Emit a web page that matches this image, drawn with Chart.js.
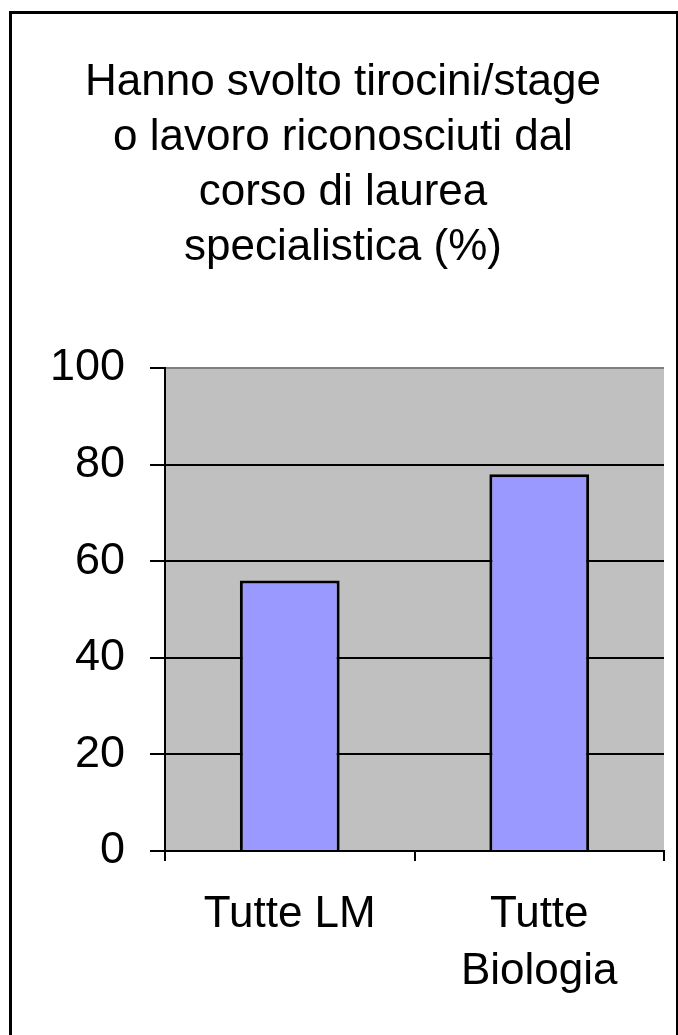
<!DOCTYPE html>
<html>
<head>
<meta charset="utf-8">
<script src="https://cdn.jsdelivr.net/npm/chart.js@4.4.1/dist/chart.umd.min.js"></script>
<style>
  html, body { margin: 0; padding: 0; background: #fff; }
  #wrap { position: relative; width: 678px; height: 1035px; overflow: hidden; }
  #frame { position: absolute; left: 9px; top: 11px; width: 664px; height: 1040px; border: 3px solid #000; pointer-events: none; }
</style>
</head>
<body>
<div id="wrap">
  <canvas id="grafico" width="678" height="1035"></canvas>
  <div id="frame"></div>
</div>
<script>
const categorie = [['Tutte LM'], ['Tutte', 'Biologia']];
const valori = [56, 78];
const titolo = ['Hanno svolto tirocini/stage', 'o lavoro riconosciuti dal', 'corso di laurea', 'specialistica (%)'];
const tickY = [0, 20, 40, 60, 80, 100];

const fontBase = '"Liberation Sans", Arial, sans-serif';

// sfondo grigio dell'area del grafico
const sfondoArea = {
    id: 'sfondoArea',
    beforeDraw(chart) {
        const { ctx, chartArea } = chart;
        ctx.save();
        ctx.fillStyle = '#fff';
        ctx.fillRect(0, 0, chart.width, chart.height);
        ctx.fillStyle = '#C0C0C0';
        ctx.fillRect(chartArea.left, chartArea.top, chartArea.right - chartArea.left, chartArea.bottom - chartArea.top);
        ctx.restore();
    }
};

const ctx = document.getElementById('grafico').getContext('2d');
new Chart(ctx, {
    type: 'bar',
    data: {
        labels: categorie,
        datasets: [{
            data: valori,
            backgroundColor: '#9999FF',
            borderColor: '#000',
            borderWidth: 3,
            barPercentage: 0.4,
            categoryPercentage: 1
        }]
    },
    options: {
        responsive: false,
        animation: false,
        layout: { padding: { top: 55, left: 22, right: 14, bottom: 0 } },
        plugins: {
            legend: { display: false },
            tooltip: { enabled: false },
            title: {
                display: true,
                text: titolo,
                color: '#000',
                font: { family: fontBase, size: 44, weight: 'normal', lineHeight: 1.25 },
                padding: { top: 0, bottom: 93 }
            }
        },
        scales: {
            x: {
                offset: true,
                afterFit: s => { s.height = 184; },
                grid: {
                    offset: true,
                    lineWidth: 2,
                    tickLength: 10,
                    tickColor: '#000',
                    color: c => c.index === categorie.length ? '#808080' : 'rgba(0,0,0,0)'
                },
                border: { display: true, color: '#000', width: 2 },
                ticks: {
                    color: '#000',
                    padding: 25,
                    maxRotation: 0,
                    font: { family: fontBase, size: 44, lineHeight: 1.3 }
                }
            },
            y: {
                min: 0,
                max: 100,
                afterFit: s => { s.width = 143; },
                afterBuildTicks: s => { s.ticks = tickY.map(v => ({ value: v })); },
                grid: {
                    lineWidth: 2,
                    tickLength: 15,
                    tickColor: '#000',
                    color: c => c.tick && c.tick.value === 100 ? '#808080' : '#000'
                },
                border: { display: true, color: '#000', width: 2 },
                ticks: {
                    color: '#000',
                    padding: 25,
                    font: { family: fontBase, size: 45 }
                }
            }
        }
    },
    plugins: [sfondoArea]
});
</script>
</body>
</html>
